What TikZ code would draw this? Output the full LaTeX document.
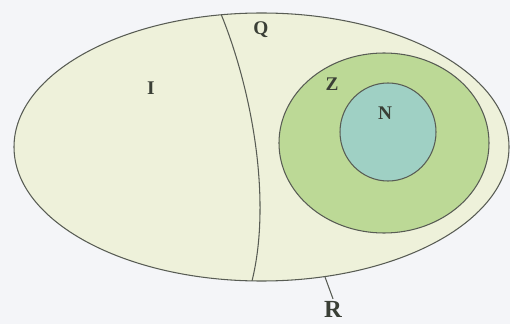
\documentclass[tikz,border=0pt]{standalone}
\usepackage{fontspec}
\setmainfont{Liberation Serif}
\usepackage{xcolor}
\usetikzlibrary{positioning}

\definecolor{paper}{HTML}{F4F5F8}
\definecolor{cream}{HTML}{EEF1DA}
\definecolor{leaf}{HTML}{BCD996}
\definecolor{teal}{HTML}{9FD0C4}
\definecolor{ink}{HTML}{3A3F36}

\begin{document}
\begin{tikzpicture}[
  x=0.02cm, y=-0.02cm,
  edge/.style={draw=ink!85, line width=0.6pt},
  lab/.style={font=\bfseries\fontsize{11}{12}\selectfont, text=ink, inner sep=1pt},
  biglab/.style={font=\bfseries\fontsize{14}{15}\selectfont, text=ink, inner sep=1pt}
]
% ---- frame ----
\fill[paper] (0,0) rectangle (510,324);
\useasboundingbox (0,0) rectangle (510,324);

% ---- outer set R ----
\filldraw[edge, fill=cream] (261.5,147) ellipse [x radius=247.5, y radius=134];

% ---- divider between I and Q ----
\begin{scope}
\clip (261.5,147) ellipse [x radius=247.5, y radius=134];
\draw[edge] (221,14) .. controls (252,90) and (272,200) .. (252,281);
\end{scope}

% ---- Z and N ----
\filldraw[edge, fill=leaf] (384,143) ellipse [x radius=105, y radius=90];
\filldraw[edge, fill=teal] (388,132) ellipse [x radius=48, y radius=49];

% ---- labels ----
\node[lab] (I) at (151,88) {I};
\node[lab] (Q) at (261,30) {Q};
\node[lab] (Z) at (332,84) {Z};
\node[lab] (N) at (385,113) {N};
\node[biglab] (R) at (333,309) {R};

% ---- leader to R ----
\coordinate (rim) at (325,277);
\draw[edge] (rim) -- (R.north);
\end{tikzpicture}
\end{document}
